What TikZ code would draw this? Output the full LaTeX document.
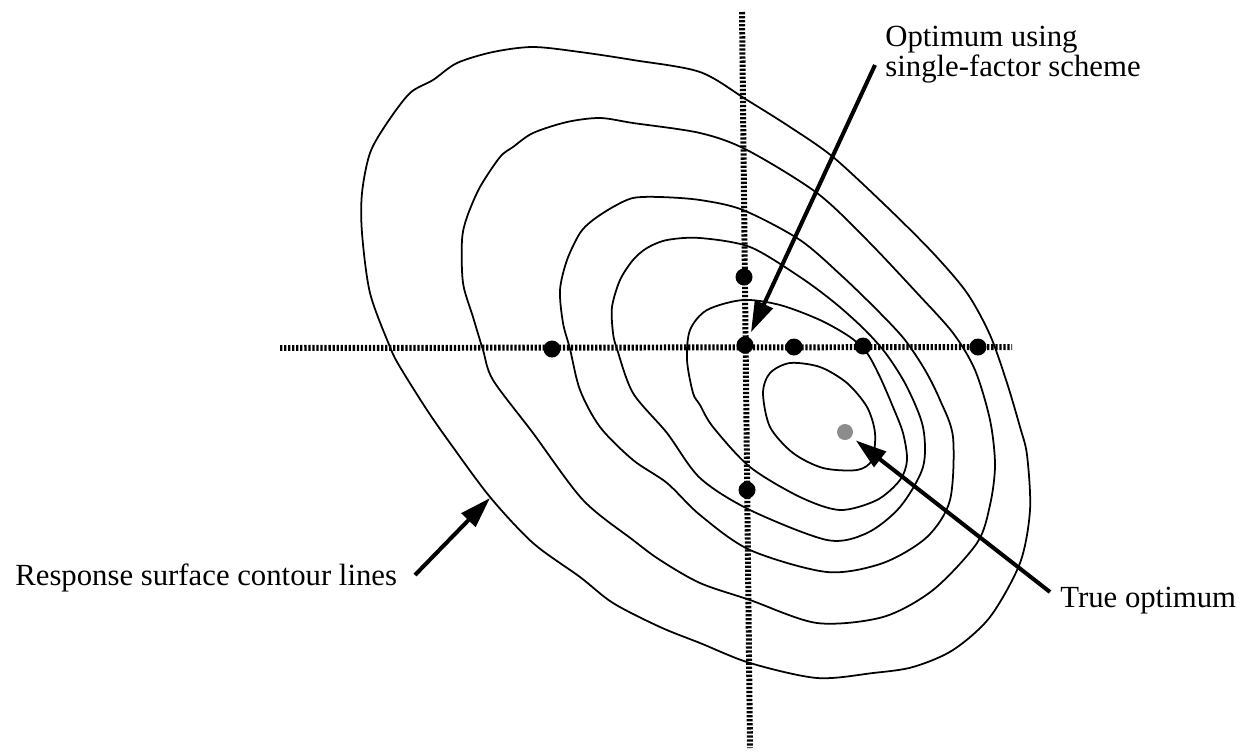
\documentclass[tikz,border=0pt]{standalone}
\usepackage{fontspec}
\setmainfont{Liberation Serif}
\usetikzlibrary{arrows.meta}

\begin{document}
\begin{tikzpicture}[x=0.02cm,y=-0.02cm,
  contour/.style={line width=1pt,line join=round},
  probe/.style={circle,fill=black,inner sep=0pt,minimum size=0.34cm},
  sweep/.style={line width=3.4pt,dash pattern=on 1.3pt off 1pt},
  pointer/.style={line width=2.3pt,-{Triangle[length=0.62cm,width=0.38cm]}},
  lbl/.style={font=\fontsize{17.5}{15.9}\selectfont,inner sep=0pt}]
\useasboundingbox (0,0) rectangle (1239,751);
% contour lines, outer to inner
\draw[contour] plot[smooth cycle] coordinates {(533,47) (580,52) (633,60) (700,72) (747,100) (790,127) (833,157) (887,207) (933,253) (967,293) (990,335) (1007,383) (1020,427) (1027,455) (1030,510) (1020,563) (990,617) (953,650) (913,667) (873,673) (817,678) (750,663) (700,643) (660,627) (613,603) (580,577) (533,543) (490,497) (450,443) (427,410) (400,367) (390,347) (370,293) (362,233) (362,193) (370,153) (387,123) (410,93) (433,80) (457,63) (493,52)};
\draw[contour] plot[smooth cycle] coordinates {(533,133) (567,122) (600,118) (633,123) (700,133) (747,150) (817,193) (867,240) (917,293) (953,333) (975,370) (990,420) (995,465) (990,505) (977,543) (933,590) (883,617) (817,623) (750,600) (700,583) (660,560) (633,540) (583,500) (533,433) (493,380) (483,350) (473,317) (463,283) (462,240) (467,217) (480,187) (500,157) (513,147)};
\draw[contour] plot[smooth cycle] coordinates {(633,198) (660,197) (700,200) (743,210) (800,240) (843,277) (880,313) (905,340) (925,370) (940,400) (953,437) (950,500) (927,537) (883,563) (827,572) (750,550) (700,515) (667,483) (633,460) (600,427) (580,390) (570,349) (563,323) (560,290) (567,260) (580,233) (593,220) (613,207)};
\draw[contour] plot[smooth cycle] coordinates {(667,240) (700,238) (750,247) (800,277) (835,303) (865,330) (887,355) (907,387) (923,427) (923,467) (900,507) (867,533) (827,540) (750,510) (700,478) (667,433) (633,393) (617,349) (613,333) (612,307) (620,280) (633,260) (647,248)};
\draw[contour] plot[smooth cycle] coordinates {(743,300) (780,305) (820,320) (850,337) (867,353) (880,377) (893,407) (903,433) (907,460) (900,480) (877,500) (840,510) (800,497) (750,467) (713,427) (700,405) (693,393) (687,360) (690,330) (707,310)};
\draw[contour] plot[smooth cycle] coordinates {(763,393) (770,373) (790,363) (820,367) (847,383) (867,407) (875,433) (872,460) (857,470) (823,468) (793,453) (770,427)};
% single-factor sweeps
\coordinate (hstart) at (280,348);
\coordinate (hend) at (1012,347);
\coordinate (vstart) at (742,12);
\coordinate (vend) at (750,748);
\draw[sweep] (hstart) -- (hend);
\draw[sweep] (vstart) -- (vend);
% trial points
\node[probe] (c0) at (745,345) {};
\node[probe] (vup) at (744,277) {};
\node[probe] (vdown) at (747,490) {};
\node[probe] (hleft) at (552,349) {};
\node[probe] (hone) at (794,347) {};
\node[probe] (htwo) at (863,346) {};
\node[probe] (hthree) at (978,347) {};
\node[circle,fill=black!45,inner sep=0pt,minimum size=0.32cm] (trueopt) at (845,432) {};
% labels
\node[lbl,anchor=north west,align=left] (optlabel) at (885,26) {Optimum using\\single-factor scheme};
\node[lbl,anchor=base west] (resplabel) at (15,585) {Response surface contour lines};
\node[lbl,anchor=base west] (truelabel) at (1060,607) {True optimum};
\coordinate (opttail) at (875,65);
\coordinate (resptail) at (415,575);
\coordinate (resphit) at (490,498);
\coordinate (truetail) at (1050,592);
\draw[pointer,shorten >=3pt] (opttail) -- (c0);
\draw[pointer] (resptail) -- (resphit);
\draw[pointer,shorten >=3pt] (truetail) -- (trueopt);
\end{tikzpicture}
\end{document}
